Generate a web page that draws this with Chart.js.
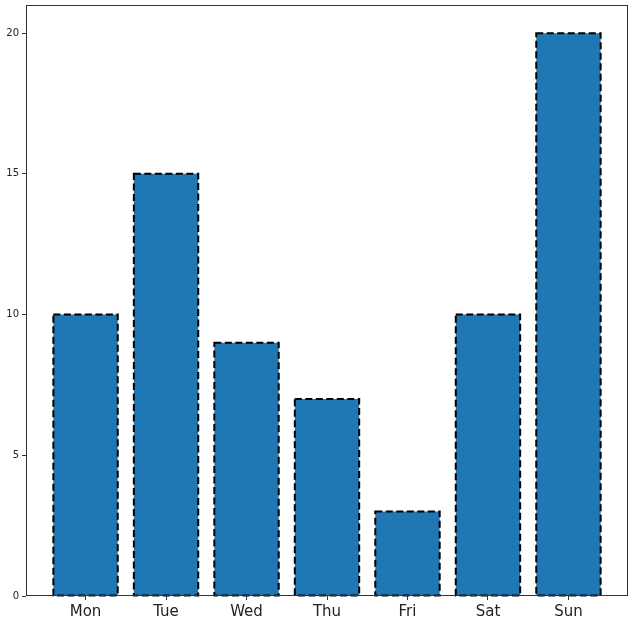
<!DOCTYPE html>
<html>
<head>
<meta charset="utf-8">
<script src="https://cdn.jsdelivr.net/npm/chart.js@4/dist/chart.umd.min.js"></script>
<style>
html,body{margin:0;padding:0;background:#fff;}
#wrap{width:636px;height:626px;}
</style>
</head>
<body>
<div id="wrap"><canvas id="c" width="636" height="626"></canvas></div>
<script>
const categories = ["Mon","Tue","Wed","Thu","Fri","Sat","Sun"];
const values = [10,15,9,7,3,10,20];
const yTicks = [0,5,10,15,20];

const points = categories.map((c,i)=>({x:i,y:values[i]}));

const dashedBorder = {
  id:'dashedBorder',
  afterDatasetsDraw(chart){
    const ctx = chart.ctx;
    const meta = chart.getDatasetMeta(0);
    ctx.save();
    ctx.strokeStyle = '#000';
    ctx.lineWidth = 2;
    ctx.setLineDash([7,3.5]);
    meta.data.forEach(b=>{
      const p = b.getProps(['x','y','base','width'], true);
      const l = p.x - p.width/2, r = p.x + p.width/2;
      ctx.beginPath();
      ctx.rect(l, p.y, r-l, p.base-p.y);
      ctx.stroke();
    });
    ctx.restore();
  },
  afterDraw(chart){
    const a = chart.chartArea, ctx = chart.ctx;
    ctx.save();
    ctx.strokeStyle = '#333';
    ctx.lineWidth = 1;
    ctx.strokeRect(a.left+0.5, a.top+0.5, a.right-a.left-1, a.bottom-a.top-1);
    ctx.restore();
  }
};

new Chart(document.getElementById('c'), {
  type:'bar',
  data:{datasets:[{data:points, backgroundColor:'#1f77b4', borderWidth:0, barPercentage:0.8, categoryPercentage:1}]},
  options:{
    responsive:false, animation:false,
    layout:{padding:{left:0,right:8,top:5,bottom:0}},
    plugins:{legend:{display:false}, tooltip:{enabled:false}},
    scales:{
      x:{type:'linear', min:-0.74, max:6.74, offset:false,
        afterBuildTicks(s){ s.ticks = categories.map((c,i)=>({value:i})); },
        afterFit(s){ s.height = 30; s.paddingLeft = 0; s.paddingRight = 0; },
        ticks:{autoSkip:false, maxRotation:0, padding:3, color:'#222',
          font:{family:'DejaVu Sans', size:15},
          callback:(v)=>categories[v]},
        grid:{offset:false, drawOnChartArea:false, drawTicks:true, tickLength:4, color:'#333'},
        border:{display:false}
      },
      y:{min:0, max:21,
        afterBuildTicks(s){ s.ticks = yTicks.map(v=>({value:v})); },
        afterFit(s){ s.width = 26; s.paddingTop = 0; s.paddingBottom = 0; },
        ticks:{padding:3, color:'#222', font:{family:'DejaVu Sans', size:10}},
        grid:{drawOnChartArea:false, drawTicks:true, tickLength:4, color:'#333'},
        border:{display:false}
      }
    }
  },
  plugins:[dashedBorder]
});
</script>
</body>
</html>
